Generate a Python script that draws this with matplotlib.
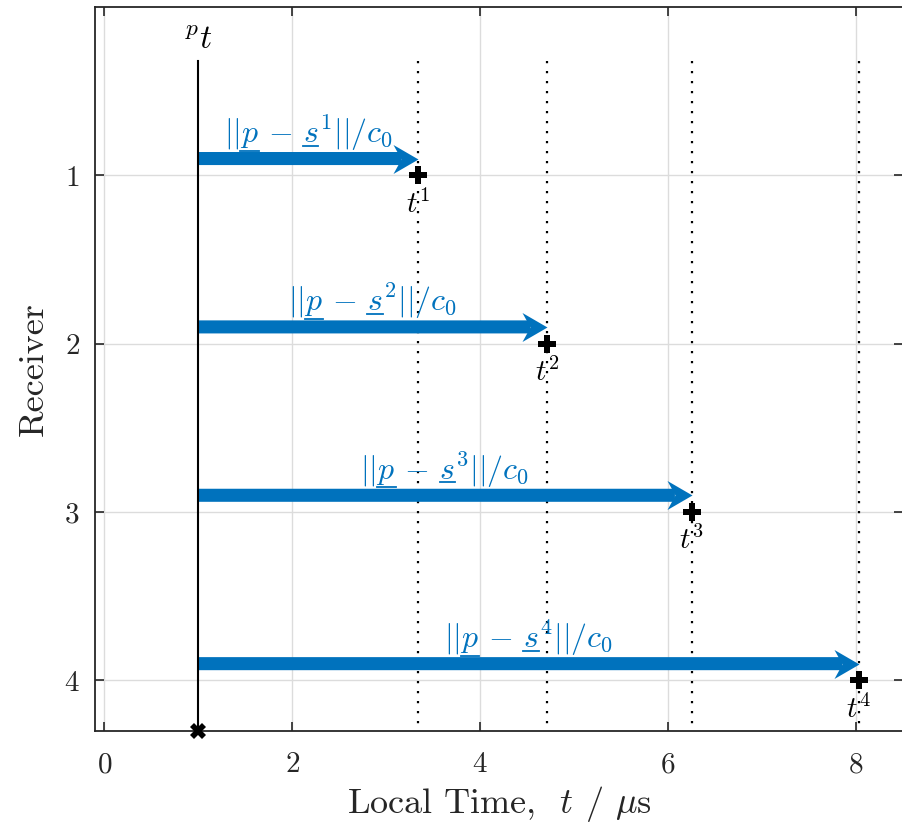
import matplotlib
matplotlib.use("Agg")
import matplotlib.pyplot as plt
from matplotlib.path import Path
from matplotlib.lines import Line2D
from matplotlib.transforms import IdentityTransform
import numpy as np

plt.rcParams.update({
    'font.family': 'serif',
    'font.serif': ['cmr10', 'DejaVu Serif'],
    'mathtext.fontset': 'cm',
    'axes.formatter.use_mathtext': True,
})

receivers = [1, 2, 3, 4]
arrival_times = [3.34, 4.71, 6.25, 8.03]
emit_time = 1.0
arrow_labels = [r'$||p\,-\,s^{%d}||/c_0$' % r for r in receivers]
time_labels = [r'$t^{%d}$' % r for r in receivers]
xticks = [0, 2, 4, 6, 8]

blue = '#0072BD'
LFS = 23
LABEL_DY = 0.195
fig = plt.figure(figsize=(9.02, 8.26), dpi=100)
ax = fig.add_axes([95/902, 95/826, 808/902, 724/826])
ax.set_xlim(-0.1, 8.5)
ax.set_ylim(4.3, 0)

ax.set_xticks(xticks)
ax.set_yticks(receivers)
ax.grid(True, color='#dcdcdc', lw=1)
ax.set_axisbelow(True)
ax.tick_params(direction='in', length=6.5, width=1.2, top=True, right=True,
               labelsize=21, colors='#262626')
ax.tick_params(axis='x', pad=15)
ax.tick_params(axis='y', pad=11)
for s in ax.spines.values():
    s.set_color('#262626')
    s.set_linewidth(1.3)

# arrowhead marker (swept-back), vertices in pixels, tip at origin
head = np.array([[0, 0], [-25, 14.5], [-17, 0], [-25, -14.5], [0, 0]])
head_path = Path(head, [Path.MOVETO, Path.LINETO, Path.LINETO, Path.LINETO, Path.CLOSEPOLY])
head_ms = 2 * np.abs(head).max() * 72 / 100

# emission line
ax.plot([emit_time, emit_time], [0.32, 4.3], color='black', lw=1.5, clip_on=False, zorder=5)
ax.plot([emit_time], [4.3], marker='X', color='black', ms=11, mew=0, clip_on=False, zorder=6)
ax.text(emit_time, 0.2, r'${}^{p}t$', fontsize=24, ha='center', va='center')

label_objs = []
for r, t, lab, tl in zip(receivers, arrival_times, arrow_labels, time_labels):
    ax.plot([t, t], [0.32, 4.3], color='black', lw=1.6, ls=(0, (1, 3.5)))
    ax.annotate('', xy=(t, r - 0.1), xytext=(emit_time, r - 0.1),
                arrowprops=dict(arrowstyle='-', lw=9.4, color=blue, capstyle='butt',
                                shrinkA=0, shrinkB=12))
    ax.plot([t], [r - 0.1], marker=head_path, ms=head_ms, color=blue, mew=0, zorder=4)
    txt = ax.text((emit_time + t) / 2, r - LABEL_DY, lab, color=blue, fontsize=LFS,
                  ha='center', va='baseline')
    label_objs.append(txt)
    ax.plot([t], [r], marker='P', color='black', ms=13, mew=0, zorder=5)
    ax.text(t, r + 0.17, tl, fontsize=21, ha='center', va='center')

ax.set_xlabel(r'Local Time,  $t$ / $\mu$s', fontsize=26, color='#262626', labelpad=4)
ax.set_ylabel('Receiver', fontsize=26, color='#262626', labelpad=10)

# underline p and s (vector notation) in the arrow labels
fig.canvas.draw()
renderer = fig.canvas.get_renderer()


def width_of(s):
    tmp = ax.text(0, 0, s, fontsize=LFS)
    w = tmp.get_window_extent(renderer).width
    tmp.remove()
    return w


w_p = width_of(r'$p$')
w_s = width_of(r'$s$')
w_b = width_of(r'$||p$')
w_d = width_of(r'$||p\,-\,s$')
for r, txt in zip(receivers, label_objs):
    bb = txt.get_window_extent(renderer)
    x0 = bb.x0
    base_y = ax.transData.transform((0, r - LABEL_DY))[1]
    fig.add_artist(Line2D([x0 + w_b - w_p, x0 + w_b], [base_y - 8, base_y - 8],
                          color=blue, lw=1.3, transform=IdentityTransform()))
    fig.add_artist(Line2D([x0 + w_d - w_s, x0 + w_d], [base_y - 3, base_y - 3],
                          color=blue, lw=1.3, transform=IdentityTransform()))

fig.savefig('out.png', dpi=100)
